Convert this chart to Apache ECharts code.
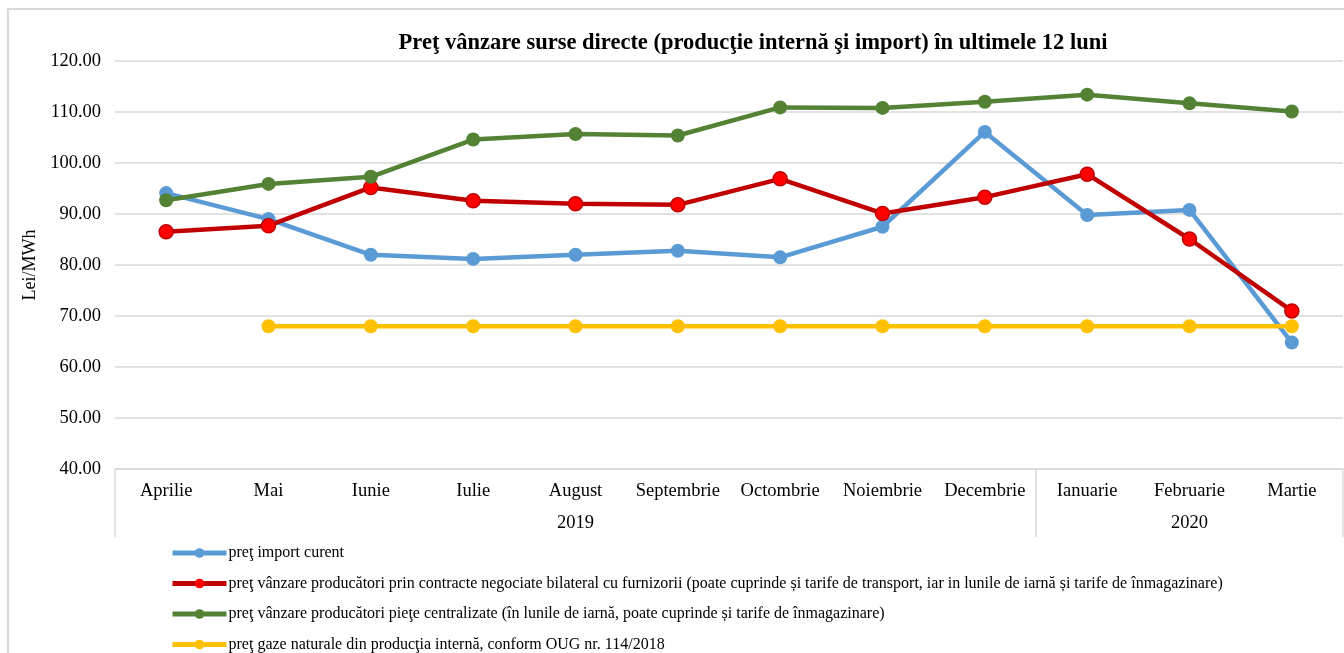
<!DOCTYPE html>
<html lang="ro">
<head>
    <meta charset="UTF-8">
    <title>Preţ vânzare surse directe</title>
    <script src="https://cdn.jsdelivr.net/npm/echarts@6.0.0/dist/echarts.min.js"></script>
    <style>
        html, body { margin: 0; padding: 0; background: #fff; }
    </style>
</head>
<body>
<div id="chart1" style="width: 1344px;height:653px;"></div>

<script>
    // luni si ani (axa pe doua niveluri)
    var months = ['Aprilie', 'Mai', 'Iunie', 'Iulie', 'August', 'Septembrie', 'Octombrie',
        'Noiembrie', 'Decembrie', 'Ianuarie', 'Februarie', 'Martie'];
    var yearLabels = ['', '', '', '', '2019', '', '', '', '', '', '2020', ''];
    var yearStarts = [0, 9];

    var importCurent = [94.1, 89.0, 82.0, 81.2, 82.0, 82.8, 81.5, 87.5, 106.1, 89.8, 90.8, 64.8];
    var bilateral = [86.5, 87.7, 95.2, 92.6, 92.0, 91.8, 96.9, 90.1, 93.3, 97.8, 85.1, 71.0];
    var centralizate = [92.7, 95.9, 97.3, 104.6, 105.7, 105.4, 110.9, 110.8, 112.0, 113.4, 111.7, 110.1];
    var productieInterna = [null, 68, 68, 68, 68, 68, 68, 68, 68, 68, 68, 68];

    var seriesNames = [
        'preţ import curent',
        'preţ vânzare producători prin contracte negociate bilateral cu furnizorii (poate cuprinde și tarife de transport, iar in lunile de iarnă și tarife de înmagazinare)',
        'preţ vânzare producători pieţe centralizate (în lunile de iarnă, poate cuprinde și tarife de înmagazinare)',
        'preţ gaze naturale din producţia internă, conform OUG nr. 114/2018'
    ];

    var font = '"Liberation Serif", "Times New Roman", serif';

    function lineSeries(name, data, color, markerFill) {
        return {
            name: name,
            type: 'line',
            data: data,
            symbol: 'circle',
            symbolSize: 14,
            lineStyle: { color: color, width: 4.5 },
            itemStyle: { color: markerFill || color, borderColor: color, borderWidth: markerFill ? 1.5 : 0 },
            emphasis: { disabled: true },
            z: 3
        };
    }

    var myChart = echarts.init(document.getElementById('chart1'));
    var option = {
        animation: false,
        textStyle: { fontFamily: font },
        title: {
            text: 'Preţ vânzare surse directe (producţie internă şi import) în ultimele 12 luni',
            left: 748,
            top: 27,
            textAlign: 'center',
            textStyle: { fontFamily: font, fontSize: 22.5, fontWeight: 'bold', color: '#000' }
        },
        graphic: [{
            type: 'rect',
            shape: { x: 8, y: 9, width: 1400, height: 700 },
            style: { fill: 'none', stroke: '#d9d9d9', lineWidth: 2 },
            silent: true
        }],
        legend: {
            orient: 'vertical',
            left: 170,
            top: 545,
            height: 200,
            padding: 0,
            itemWidth: 54,
            itemHeight: 12,
            itemGap: 14.5,
            lineStyle: { width: 5 },
            itemStyle: { borderWidth: 0 },
            data: seriesNames,
            textStyle: { fontFamily: font, fontSize: 16, color: '#000', padding: [0, 0, 0, -3] }
        },
        grid: { left: 115, right: 1, top: 61, bottom: 184 },
        xAxis: [{
            type: 'category',
            data: months,
            boundaryGap: true,
            axisLine: { lineStyle: { color: '#d9d9d9', width: 1.5 } },
            axisTick: { show: false },
            axisLabel: { color: '#000', fontSize: 18.5, fontFamily: font, margin: 13, interval: 0 }
        }, {
            type: 'category',
            data: yearLabels,
            position: 'bottom',
            boundaryGap: true,
            axisLine: { show: false },
            axisTick: {
                show: true,
                length: 68,
                interval: function (index) { return yearStarts.indexOf(index) >= 0; },
                lineStyle: { color: '#d9d9d9', width: 1.5 }
            },
            axisLabel: { color: '#000', fontSize: 18.5, fontFamily: font, margin: 45, interval: 0 }
        }],
        yAxis: {
            type: 'value',
            min: 40,
            max: 120,
            interval: 10,
            name: 'Lei/MWh',
            nameLocation: 'middle',
            nameGap: 74,
            nameRotate: 90,
            nameTextStyle: { color: '#000', fontSize: 18, fontFamily: font },
            axisLine: { show: false },
            axisTick: { show: false },
            axisLabel: {
                color: '#000', fontSize: 18.5, fontFamily: font, margin: 14,
                formatter: function (v) { return v.toFixed(2); }
            },
            splitLine: { lineStyle: { color: '#d9d9d9', width: 1.5 } }
        },
        series: [
            lineSeries(seriesNames[0], importCurent, '#5b9bd5'),
            lineSeries(seriesNames[1], bilateral, '#c00000', '#ff0000'),
            lineSeries(seriesNames[2], centralizate, '#548235'),
            lineSeries(seriesNames[3], productieInterna, '#ffc000')
        ]
    };
    myChart.setOption(option);
</script>
</body>
</html>
